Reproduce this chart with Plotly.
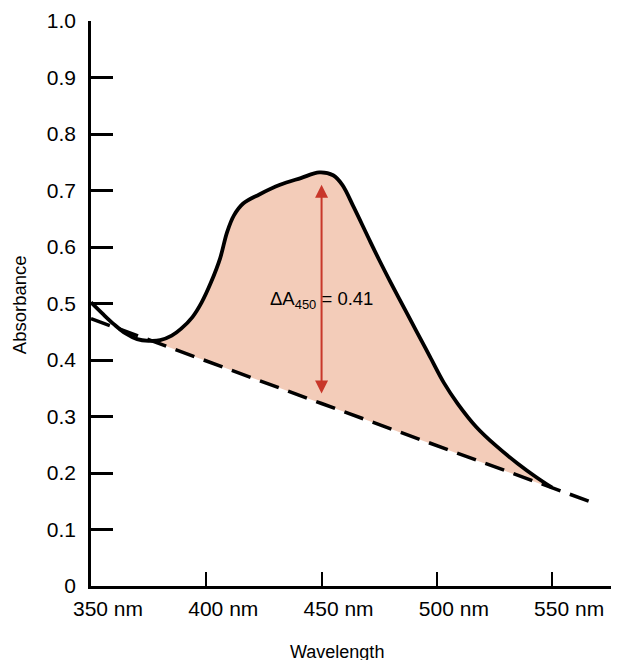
import plotly.graph_objects as go

# Measured absorbance spectrum (solid curve)
wavelength = [350, 355, 360, 365, 370, 375, 380, 385, 389, 394, 398, 402, 406, 409, 412,
              416, 423, 432, 441, 449, 455, 459, 464, 470, 475, 480, 487, 491, 497, 503,
              509, 517, 526, 535, 543, 550]
absorbance = [0.502, 0.482, 0.463, 0.447, 0.437, 0.434, 0.435, 0.443, 0.455, 0.476, 0.502,
              0.537, 0.580, 0.626, 0.656, 0.677, 0.693, 0.710, 0.722, 0.732, 0.727, 0.710,
              0.670, 0.619, 0.577, 0.537, 0.483, 0.452, 0.406, 0.360, 0.323, 0.282, 0.247,
              0.217, 0.193, 0.174]

# Baseline (dashed line)
base_wl = [350, 375, 450, 550, 568]
base_abs = [0.473, 0.436, 0.323, 0.173, 0.147]

# Delta A annotation arrow
arrow_wl = 450
arrow_top = 0.710
arrow_bottom = 0.338
delta_label = "ΔA<sub>450</sub> = 0.41"
delta_label_y = 0.506

# Axis ticks
x_tickvals = [350, 400, 450, 500, 550]
x_ticktext = ["350 nm", "400 nm", "450 nm", "500 nm", "550 nm"]
y_tickvals = [0, 0.1, 0.2, 0.3, 0.4, 0.5, 0.6, 0.7, 0.8, 0.9, 1.0]
y_ticktext = ["0", "0.1", "0.2", "0.3", "0.4", "0.5", "0.6", "0.7", "0.8", "0.9", "1.0"]

FONT = "Liberation Sans, Arial, Helvetica, sans-serif"

# Fill polygon: solid curve between the two crossings, back along the baseline
lo, hi = 375, 550
fill_x = [w for w in wavelength if lo <= w <= hi]
fill_y = [a for w, a in zip(wavelength, absorbance) if lo <= w <= hi]
bx = [w for w in base_wl if lo <= w <= hi][::-1]
by = [a for w, a in zip(base_wl, base_abs) if lo <= w <= hi][::-1]

fig = go.Figure()
fig.add_trace(go.Scatter(x=fill_x + bx, y=fill_y + by, fill="toself",
                         fillcolor="#F3CCB9", line=dict(width=0),
                         mode="lines", hoverinfo="skip", showlegend=False))
fig.add_trace(go.Scatter(x=base_wl, y=base_abs, mode="lines",
                         line=dict(color="black", width=3.5, dash="20px,10px"),
                         showlegend=False))
fig.add_trace(go.Scatter(x=wavelength, y=absorbance, mode="lines",
                         line=dict(color="black", width=3.8, shape="spline", smoothing=1.0),
                         showlegend=False))

fig.add_annotation(x=arrow_wl, y=arrow_top, ax=arrow_wl, ay=arrow_bottom,
                   xref="x", yref="y", axref="x", ayref="y", text="",
                   showarrow=True, arrowside="end+start", arrowhead=2,
                   arrowsize=1.3, arrowwidth=2, arrowcolor="#C8372A",
                   standoff=0, startstandoff=0)
fig.add_annotation(x=arrow_wl, y=delta_label_y, xref="x", yref="y", text=delta_label,
                   showarrow=False, font=dict(family=FONT, size=18.5, color="black"))

fig.add_annotation(text="Wavelength", xref="paper", yref="paper", x=0.466, y=0,
                   yshift=-66, showarrow=False, yanchor="middle",
                   font=dict(family=FONT, size=18, color="black"))
fig.add_annotation(text="Absorbance", xref="paper", yref="paper", x=0, y=0.497,
                   xshift=-72, textangle=-90, showarrow=False, xanchor="center",
                   font=dict(family=FONT, size=18.5, color="black"))

fig.update_layout(
    width=611, height=652,
    margin=dict(l=83, r=0, t=13, b=74),
    paper_bgcolor="white", plot_bgcolor="white",
    font=dict(family=FONT, size=21, color="black"),
    showlegend=False,
    xaxis=dict(range=[350, 579], tickvals=x_tickvals, ticktext=x_ticktext,
               ticks="inside", ticklen=14, tickwidth=2, tickcolor="black",
               showline=True, linecolor="black", linewidth=2.5,
               showgrid=False, zeroline=False, ticklabelshift=17,
               ticklabelstandoff=2, tickfont=dict(family=FONT, size=21)),
    yaxis=dict(range=[0, 1.0], tickvals=y_tickvals, ticktext=y_ticktext,
               ticks="inside", ticklen=22, tickwidth=2.5, tickcolor="black",
               showline=True, linecolor="black", linewidth=2.5,
               showgrid=False, zeroline=False, ticklabelstandoff=8,
               tickfont=dict(family=FONT, size=21)),
)

fig.write_html("out.html")
